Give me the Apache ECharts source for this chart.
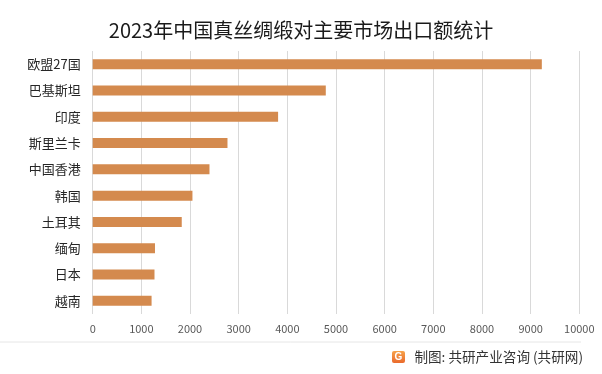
<!DOCTYPE html>
<html>
<head>
<meta charset="utf-8">
<script src="https://cdn.jsdelivr.net/npm/echarts@6/dist/echarts.min.js"></script>
<style>
html,body{margin:0;padding:0;background:#fff;}
#c{width:602px;height:374px;}
</style>
</head>
<body>
<div id="c"></div>
<script>
var titleText = '2023年中国真丝绸缎对主要市场出口额统计';
var categories = ['欧盟27国','巴基斯坦','印度','斯里兰卡','中国香港','韩国','土耳其','缅甸','日本','越南'];
var values = [9230, 4790, 3810, 2770, 2400, 2050, 1830, 1280, 1270, 1210];
var xTicks = [0,1000,2000,3000,4000,5000,6000,7000,8000,9000,10000];
var sourceText = '制图: 共研产业咨询 (共研网)';

var FONT = '"Noto Sans CJK SC","Noto Sans",sans-serif';
var chart = echarts.init(document.getElementById('c'), null, {renderer:'canvas'});
chart.setOption({
  animation:false,
  backgroundColor:'#ffffff',
  title:{
    text:titleText,
    left:'center',
    top:15,
    textStyle:{fontFamily:FONT,fontSize:20,fontWeight:'normal',color:'#1a1a1a'}
  },
  grid:{left:92.7,right:22.7,top:51,bottom:60,containLabel:false},
  xAxis:{
    type:'value',
    min:xTicks[0],
    max:xTicks[xTicks.length-1],
    interval:xTicks[1]-xTicks[0],
    axisLine:{show:false},
    axisTick:{show:false},
    axisLabel:{margin:9,fontFamily:FONT,fontSize:11,color:'#595959',formatter:function(v){return String(v);}},
    splitLine:{show:true,lineStyle:{color:'#d9d9d9',width:1}}
  },
  yAxis:{
    type:'category',
    data:categories,
    inverse:true,
    axisLine:{show:false},
    axisTick:{show:false},
    axisLabel:{margin:12,fontFamily:FONT,fontSize:13,color:'#262626'}
  },
  series:[{
    type:'bar',
    data:values,
    barWidth:10,
    itemStyle:{color:'#d48a4e'}
  }],
  graphic:[
    {type:'line',shape:{x1:0,y1:342,x2:581,y2:342},style:{stroke:'#e6e6e6',lineWidth:1}},
    {type:'rect',shape:{x:392,y:351,width:13,height:12,r:2},
      style:{fill:new echarts.graphic.LinearGradient(0,0,0,1,[{offset:0,color:'#f6a24a'},{offset:1,color:'#ea6a2c'}])}},
    {type:'text',x:398.5,y:357,style:{text:'G',fill:'#fff',font:'bold 10px sans-serif',align:'center',verticalAlign:'middle'}},
    {type:'text',x:583,y:357,style:{text:sourceText,fill:'#333',font:'13.6px '+FONT,align:'right',verticalAlign:'middle'}}
  ]
});
</script>
</body>
</html>
